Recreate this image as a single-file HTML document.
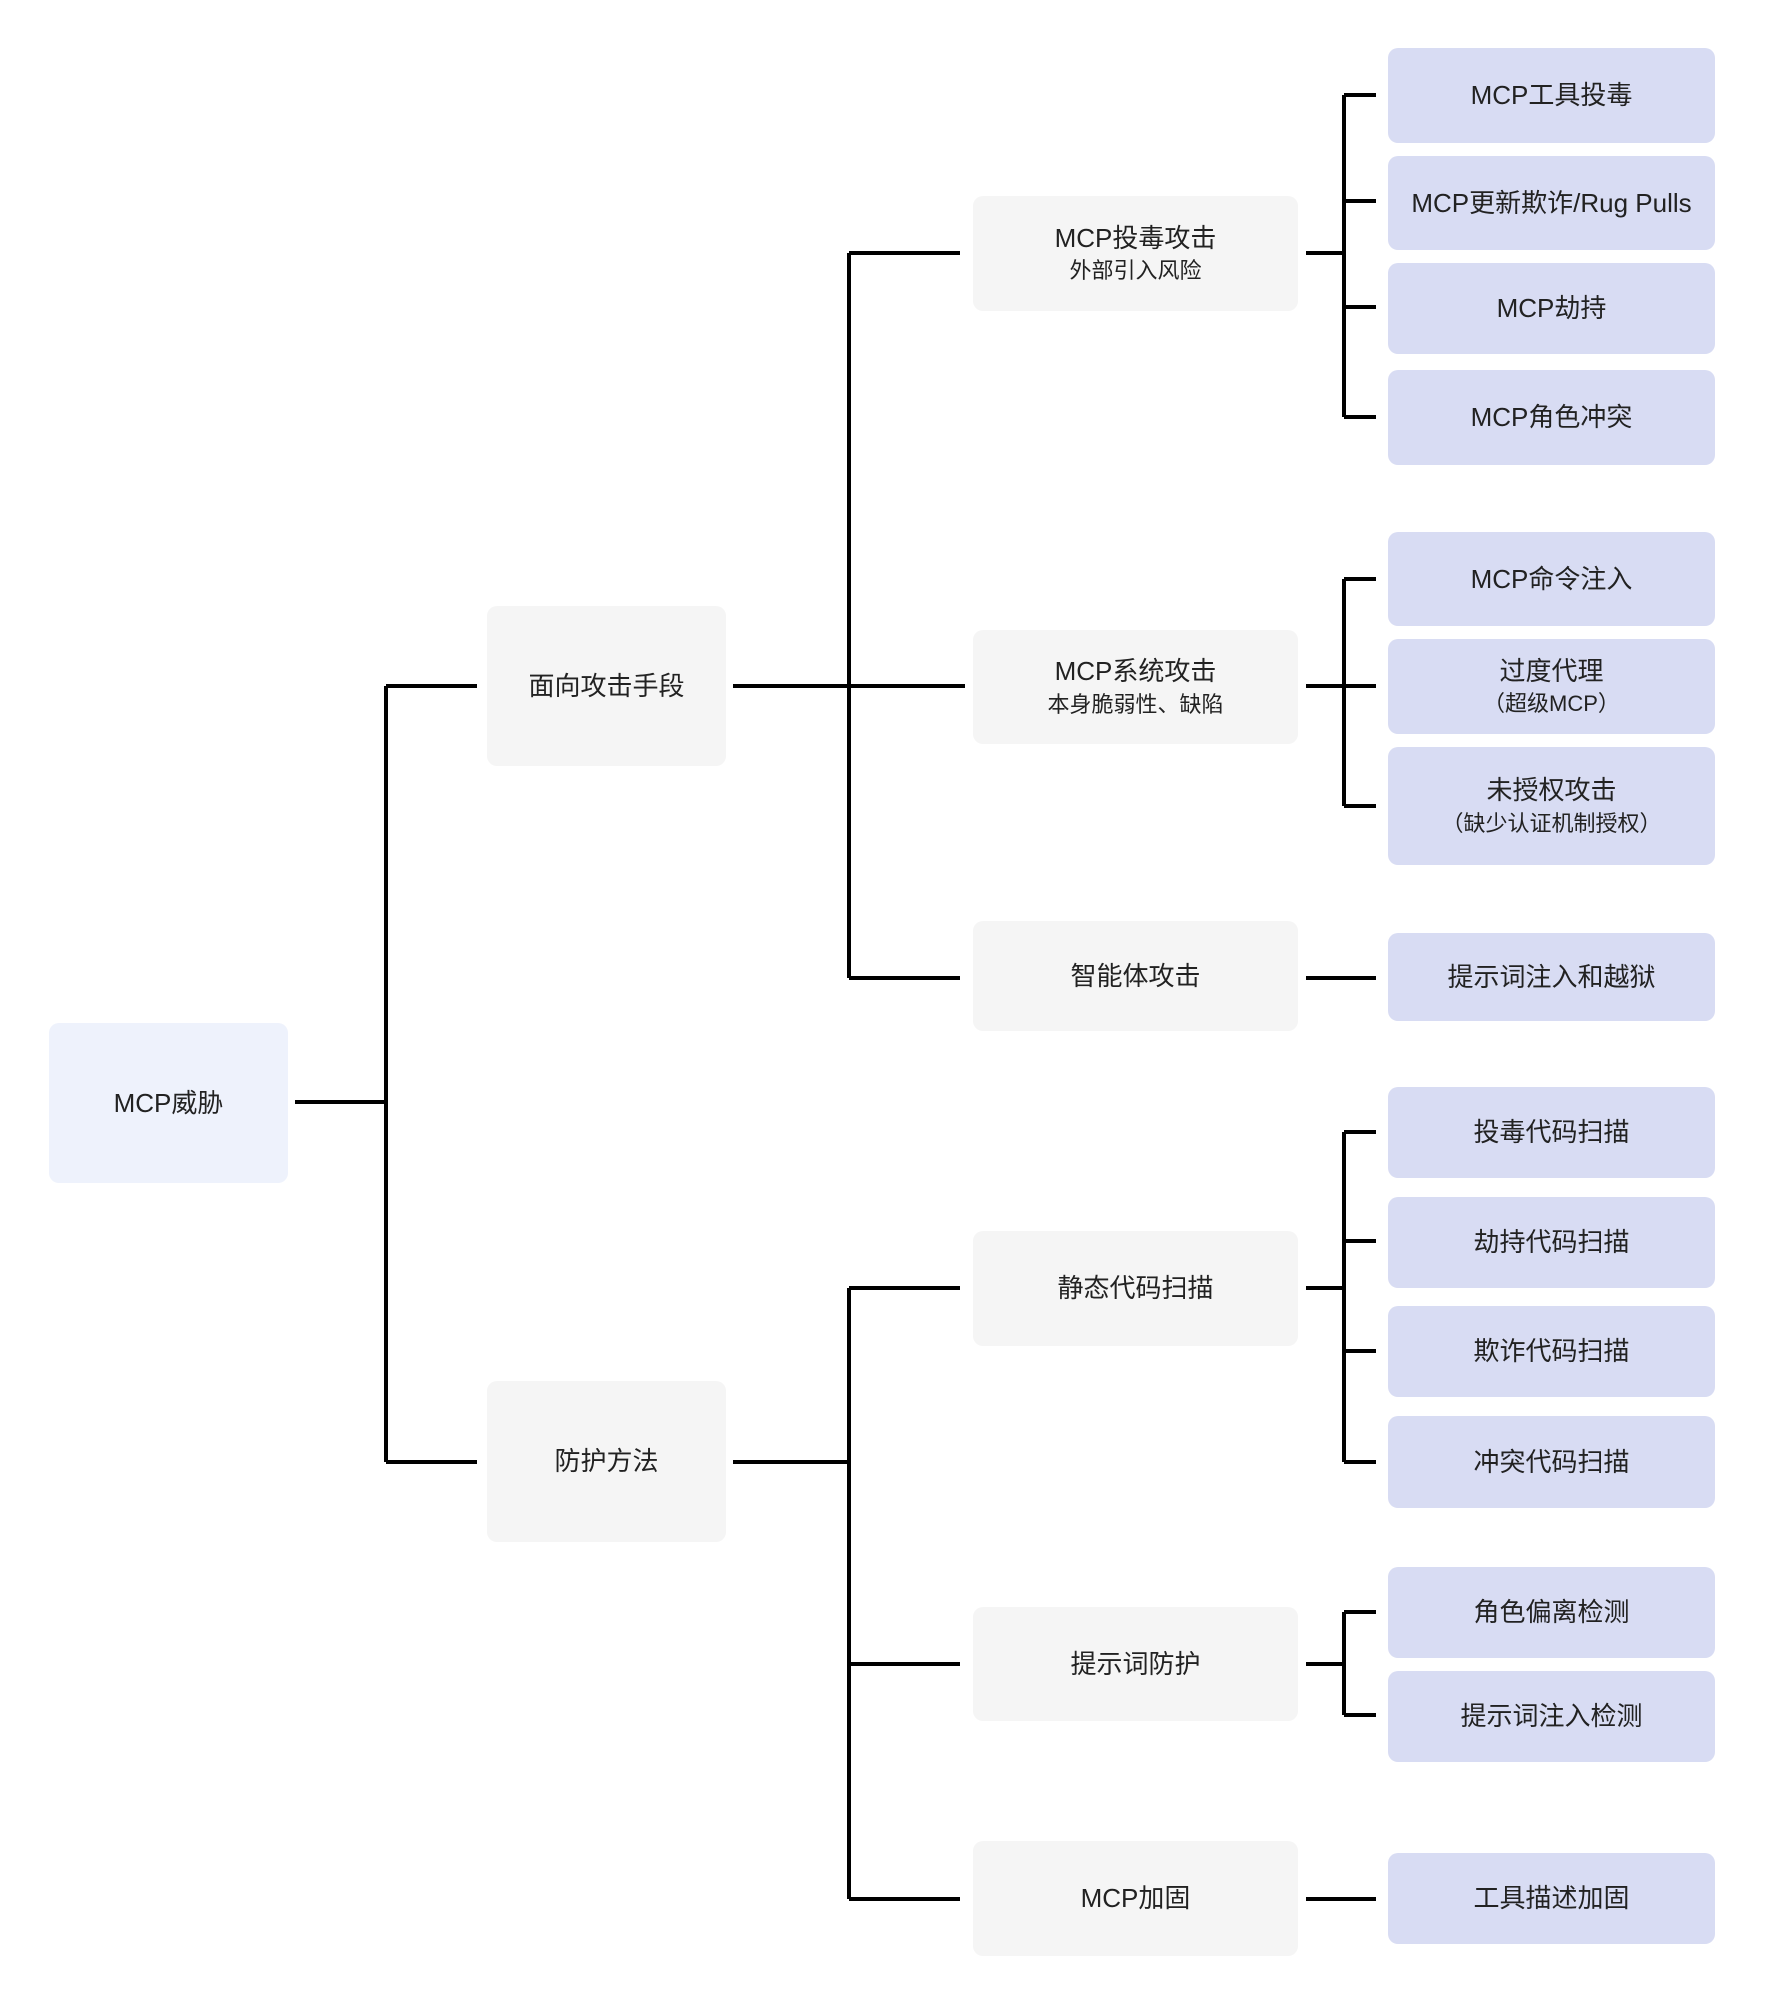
<!DOCTYPE html>
<html><head><meta charset="utf-8"><style>
body{margin:0;width:1766px;height:2000px;background:#fff;position:relative;overflow:hidden;font-family:"Liberation Sans","Noto Sans CJK SC",sans-serif;color:#222}
.b{position:absolute;border-radius:10px;display:flex;flex-direction:column;align-items:center;justify-content:center;text-align:center;font-size:26px;line-height:1.4}
.r{background:#d8dcf3}.m{background:#f5f5f5}.root{background:#eef2fc}
.s{font-size:22px}
svg{position:absolute;left:0;top:0}
</style></head><body>
<svg width="1766" height="2000"><g stroke="#000" stroke-width="4" fill="none">
<path d="M295 1102H386M386 686V1462M386 686H477M386 1462H477"/>
<path d="M733 686H965M849 253V978M849 253H960M849 978H960"/>
<path d="M733 1462H849M849 1288V1899M849 1288H960M849 1664H960M849 1899H960"/>
<path d="M1306 253H1344M1344 95V417M1344 95H1376M1344 201H1376M1344 307H1376M1344 417H1376"/>
<path d="M1306 686H1376M1344 579V806M1344 579H1376M1344 806H1376"/>
<path d="M1306 978H1376"/>
<path d="M1306 1288H1344M1344 1132V1462M1344 1132H1376M1344 1241H1376M1344 1351H1376M1344 1462H1376"/>
<path d="M1306 1664H1344M1344 1612V1715M1344 1612H1376M1344 1715H1376"/>
<path d="M1306 1899H1376"/>
</g></svg>
<div class="b root" style="left:49px;top:1023px;width:239px;height:160px">MCP威胁</div>
<div class="b m" style="left:487px;top:606px;width:239px;height:160px">面向攻击手段</div>
<div class="b m" style="left:487px;top:1381px;width:239px;height:161px">防护方法</div>
<div class="b m" style="left:973px;top:196px;width:325px;height:115px">MCP投毒攻击<span class="s">外部引入风险</span></div>
<div class="b m" style="left:973px;top:630px;width:325px;height:114px">MCP系统攻击<span class="s">本身脆弱性、缺陷</span></div>
<div class="b m" style="left:973px;top:921px;width:325px;height:110px">智能体攻击</div>
<div class="b m" style="left:973px;top:1231px;width:325px;height:115px">静态代码扫描</div>
<div class="b m" style="left:973px;top:1607px;width:325px;height:114px">提示词防护</div>
<div class="b m" style="left:973px;top:1841px;width:325px;height:115px">MCP加固</div>
<div class="b r" style="left:1388px;top:48px;width:327px;height:95px">MCP工具投毒</div>
<div class="b r" style="left:1388px;top:156px;width:327px;height:94px">MCP更新欺诈/Rug Pulls</div>
<div class="b r" style="left:1388px;top:263px;width:327px;height:91px">MCP劫持</div>
<div class="b r" style="left:1388px;top:370px;width:327px;height:95px">MCP角色冲突</div>
<div class="b r" style="left:1388px;top:532px;width:327px;height:94px">MCP命令注入</div>
<div class="b r" style="left:1388px;top:639px;width:327px;height:95px">过度代理<span class="s">（超级MCP）</span></div>
<div class="b r" style="left:1388px;top:747px;width:327px;height:118px">未授权攻击<span class="s">（缺少认证机制授权）</span></div>
<div class="b r" style="left:1388px;top:933px;width:327px;height:88px">提示词注入和越狱</div>
<div class="b r" style="left:1388px;top:1087px;width:327px;height:91px">投毒代码扫描</div>
<div class="b r" style="left:1388px;top:1197px;width:327px;height:91px">劫持代码扫描</div>
<div class="b r" style="left:1388px;top:1306px;width:327px;height:91px">欺诈代码扫描</div>
<div class="b r" style="left:1388px;top:1416px;width:327px;height:92px">冲突代码扫描</div>
<div class="b r" style="left:1388px;top:1567px;width:327px;height:91px">角色偏离检测</div>
<div class="b r" style="left:1388px;top:1671px;width:327px;height:91px">提示词注入检测</div>
<div class="b r" style="left:1388px;top:1853px;width:327px;height:91px">工具描述加固</div>
</body></html>
